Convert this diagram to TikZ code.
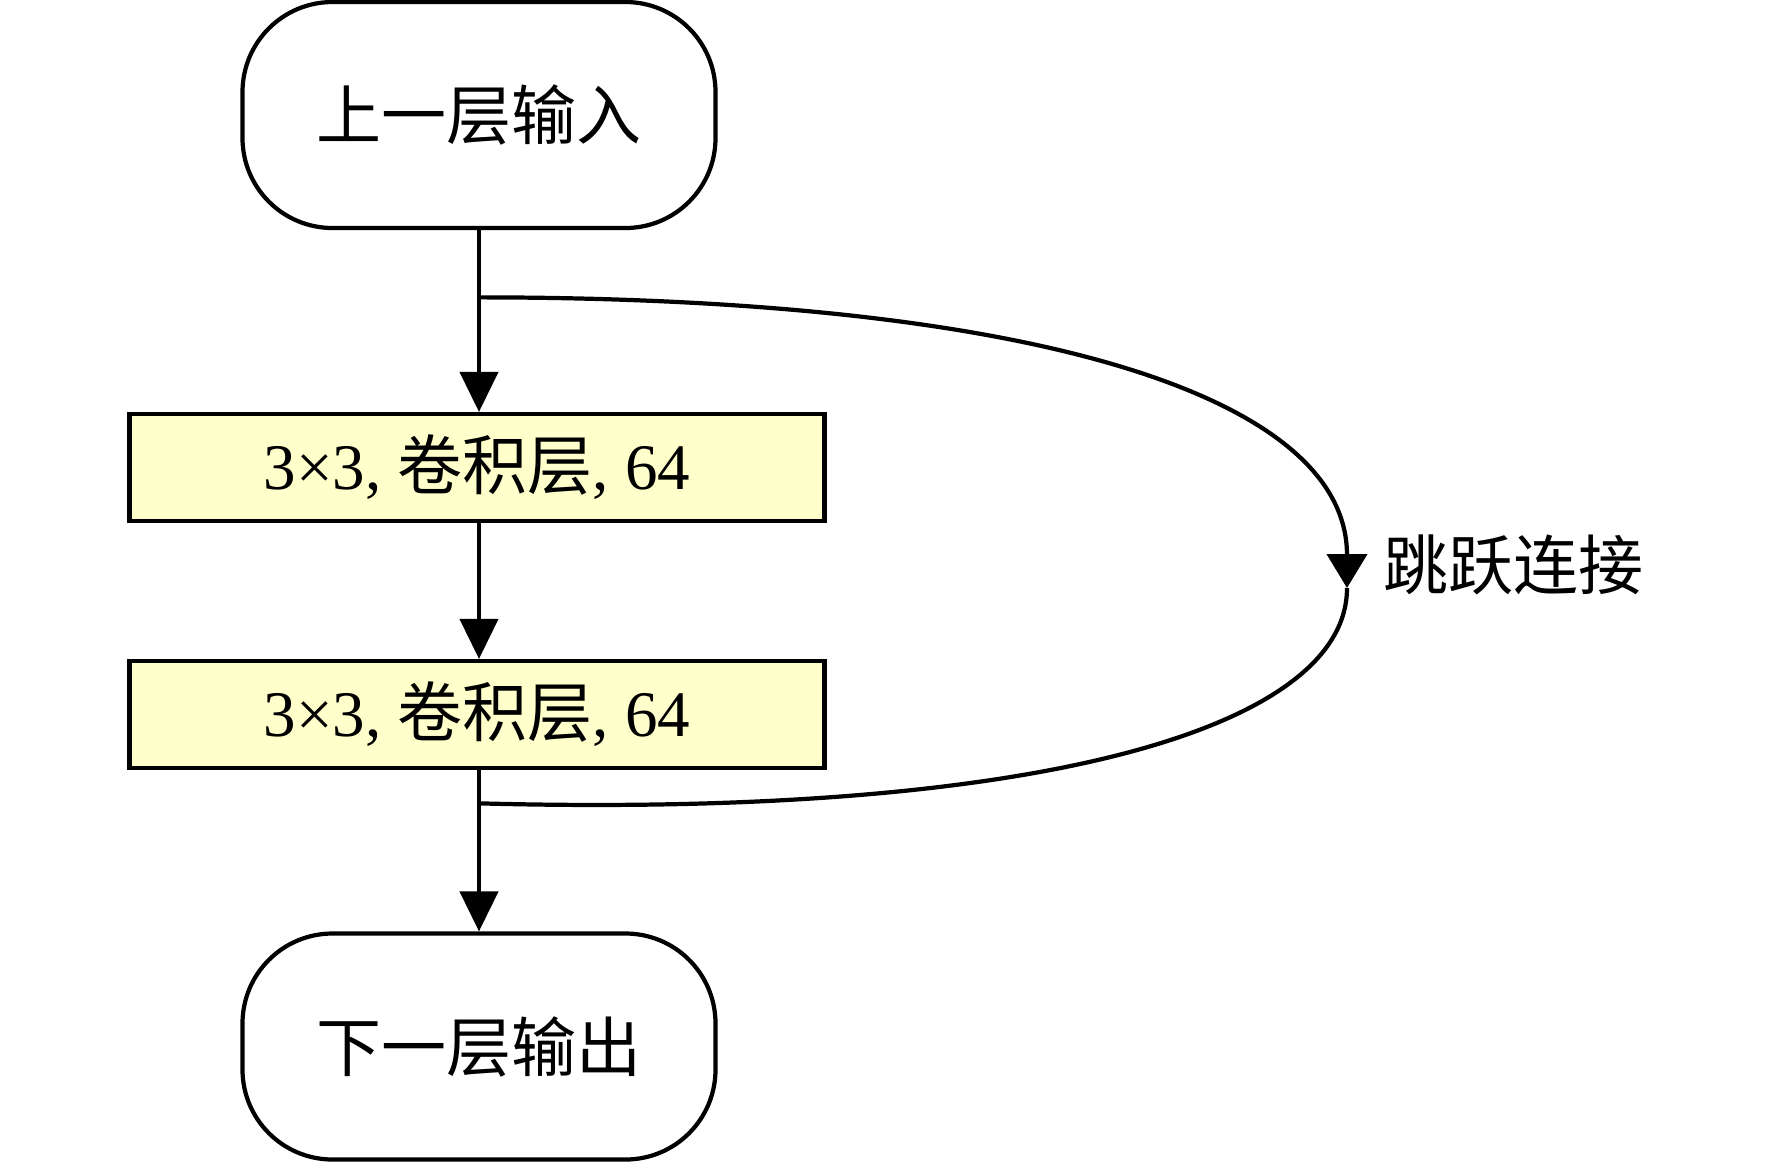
\documentclass[tikz,border=0pt]{standalone}
\usepackage{fontspec}
\setmainfont{Liberation Serif}
\newfontfamily\cjk{Noto Sans CJK SC}
\usepackage{tikz}
\usetikzlibrary{calc,
                positioning,
                arrows.meta
                }

\definecolor{convgelb}{RGB}{255,255,204}

\tikzset{
    endbox/.style={draw, line width=1.2pt, rounded corners=0.9cm,
                   minimum width=4.73cm, minimum height=2.26cm},
    convbox/.style={draw, line width=1.2pt, fill=convgelb,
                    minimum width=6.95cm, minimum height=1.07cm},
    pfeil/.style={line width=1.2pt, -{Triangle[length=0.4cm,width=0.38cm]}}
}

\begin{document}
\begin{tikzpicture}[font=\fontsize{18.5}{22}\selectfont]
    % Rahmen des Bildes
    \useasboundingbox (0,0) rectangle (17.72,-11.62);

    % Knoten der Kette
    \node[endbox] (eingang) at (4.79,-1.15) {\cjk 上一层输入};
    \node[convbox] (conv1) at (4.77,-4.675) {3×3, {\cjk 卷积层}, 64};
    \node[convbox] (conv2) at (4.77,-7.145) {3×3, {\cjk 卷积层}, 64};
    \node[endbox] (ausgang) at (4.79,-10.465) {\cjk 下一层输出};

    % Zeichne Pfeile
    \draw[pfeil] (eingang) -- (eingang |- conv1.north);
    \draw[pfeil] (eingang |- conv1.south) -- (eingang |- conv2.north);
    \draw[pfeil] (eingang |- conv2.south) -- (ausgang);

    % Punkte der Sprungverbindung
    \coordinate (abzweig) at ($(eingang.south)!0.37!(eingang |- conv1.north)$);
    \coordinate (einmuend) at ($(ausgang.north)!0.794!(eingang |- conv2.south)$);
    \coordinate (spitze) at (13.47,-5.88);

    % Zeichne Sprungverbindung
    \draw[line width=1.2pt, -{Triangle[length=0.34cm,width=0.4cm]}]
        (abzweig) .. controls +(5.64,0) and +(0,1.89) .. (spitze);
    \draw[line width=1.2pt]
        (spitze) .. controls +(0,-1.39) and +(5.64,-0.15) .. (einmuend);
    \node[right=0.24cm of spitze, yshift=0.23cm] (sprung) {\cjk 跳跃连接};
\end{tikzpicture}
\end{document}
